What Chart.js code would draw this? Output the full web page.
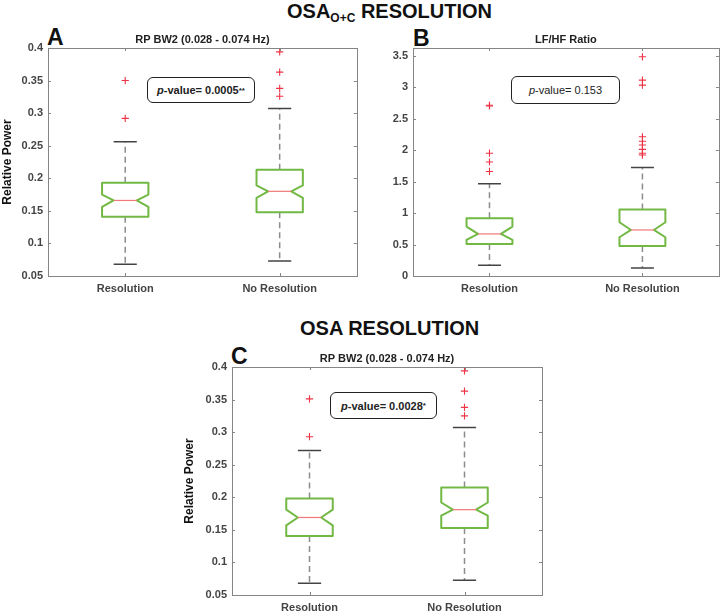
<!DOCTYPE html>
<html>
<head>
<meta charset="utf-8">
<script src="https://cdn.jsdelivr.net/npm/chart.js@4.4.1/dist/chart.umd.min.js"></script>
<style>
  body { margin: 0; background: #fff; font-family: "Liberation Sans", Arial, sans-serif; }
  #page { position: relative; width: 724px; height: 614px; overflow: hidden; }
  canvas { position: absolute; }
  .head { position: absolute; font-weight: bold; font-size: 20px; color: #111; white-space: nowrap; line-height: 1; }
  .head sub { font-size: 12px; vertical-align: -4px; }
  .letter { position: absolute; font-weight: bold; font-size: 23px; color: #111; line-height: 1; }
  .pval { position: absolute; box-sizing: border-box; border: 1.5px solid #222; border-radius: 6px; background: #fff;
          font-size: 11px; color: #222; display: flex; align-items: center; justify-content: center; white-space: nowrap; }
  .pval.b { font-weight: bold; }
  .pval sup { font-size: 8px; vertical-align: 3px; }
</style>
</head>
<body>
<div id="page">
  <div class="head" style="left:287px; top:1px;">OSA<sub>O+C</sub> RESOLUTION</div>
  <div class="head" style="left:300px; top:318px;">OSA RESOLUTION</div>
  <div class="letter" style="left:47px; top:26px;">A</div>
  <div class="letter" style="left:413px; top:27px;">B</div>
  <div class="letter" style="left:231px; top:345px;">C</div>

  <canvas id="chartA" width="362" height="272" style="left:0px; top:28px;"></canvas>
  <canvas id="chartB" width="362" height="272" style="left:362px; top:28px;"></canvas>
  <canvas id="chartC" width="380" height="269" style="left:170px; top:345px;"></canvas>

  <div class="pval b" style="left:147px; top:77px; width:108px; height:26px;"><i>p</i>-value= 0.0005<sup>**</sup></div>
  <div class="pval" style="left:511px; top:76px; width:109px; height:28px;"><i>p</i>-value= 0.153</div>
  <div class="pval b" style="left:330px; top:392px; width:107px; height:27px;"><i>p</i>-value= 0.0028<sup>*</sup></div>
</div>

<script>
const categories = ['Resolution', 'No Resolution']

// A: RP BW2, OSA O+C resolution
const aWhiskerLow  = [0.068, 0.073]
const aQ1          = [0.141, 0.148]
const aNotchLow    = [0.156, 0.170]
const aMedian      = [0.166, 0.180]
const aNotchHigh   = [0.175, 0.189]
const aQ3          = [0.193, 0.213]
const aWhiskerHigh = [0.256, 0.307]
const aOutliers    = [[0.350, 0.292], [0.394, 0.363, 0.338, 0.326]]
const aTicks       = [0.05, 0.1, 0.15, 0.2, 0.25, 0.3, 0.35, 0.4]

// B: LF/HF ratio
const bWhiskerLow  = [0.170, 0.127]
const bQ1          = [0.509, 0.477]
const bNotchLow    = [0.572, 0.615]
const bMedian      = [0.668, 0.731]
const bNotchHigh   = [0.784, 0.853]
const bQ3          = [0.917, 1.054]
const bWhiskerHigh = [1.463, 1.722]
const bOutliers    = [[2.71, 2.70, 1.95, 1.81, 1.66], [3.48, 3.11, 3.03, 2.21, 2.14, 2.08, 2.01, 1.95, 1.92]]
const bTicks       = [0, 0.5, 1, 1.5, 2, 2.5, 3, 3.5]

// C: RP BW2, OSA resolution
const cWhiskerLow  = [0.068, 0.0725]
const cQ1          = [0.1405, 0.153]
const cNotchLow    = [0.157, 0.172]
const cMedian      = [0.169, 0.181]
const cNotchHigh   = [0.181, 0.192]
const cQ3          = [0.198, 0.215]
const cWhiskerHigh = [0.272, 0.307]
const cOutliers    = [[0.351, 0.293], [0.394, 0.363, 0.338, 0.325]]
const cTicks       = [0.05, 0.1, 0.15, 0.2, 0.25, 0.3, 0.35, 0.4]

const FONT = '"Liberation Sans", Arial, sans-serif'
const BOX_HALF = 0.15   // in x units
const CAP_HALF = 0.075

// draws the notched boxes, whiskers, frame and inner ticks
function boxPlugin(st) {
  return {
    id: 'notchedBox',
    beforeDatasetsDraw(chart) {
      const { ctx, chartArea: a, scales: { x, y } } = chart
      ctx.save()
      for (let i = 0; i < st.median.length; i++) {
        const cx = x.getPixelForValue(i + 1)
        const hw = x.getPixelForValue(i + 1 + BOX_HALF) - cx
        const cw = x.getPixelForValue(i + 1 + CAP_HALF) - cx
        const py = v => y.getPixelForValue(v)

        // dashed whiskers
        ctx.strokeStyle = '#8c8c8c'
        ctx.lineWidth = 1.5
        ctx.setLineDash([6, 4])
        ctx.beginPath()
        ctx.moveTo(cx, py(st.q3[i])); ctx.lineTo(cx, py(st.whiskerHigh[i]))
        ctx.moveTo(cx, py(st.q1[i])); ctx.lineTo(cx, py(st.whiskerLow[i]))
        ctx.stroke()
        ctx.setLineDash([])

        // caps
        ctx.strokeStyle = '#444'
        ctx.beginPath()
        ctx.moveTo(cx - cw, py(st.whiskerHigh[i])); ctx.lineTo(cx + cw, py(st.whiskerHigh[i]))
        ctx.moveTo(cx - cw, py(st.whiskerLow[i])); ctx.lineTo(cx + cw, py(st.whiskerLow[i]))
        ctx.stroke()

        // notched box
        const l = cx - hw, r = cx + hw, ins = hw * 0.5
        ctx.strokeStyle = '#72b944'
        ctx.lineWidth = 2
        ctx.lineJoin = 'round'
        ctx.beginPath()
        ctx.moveTo(l, py(st.q1[i]))
        ctx.lineTo(l, py(st.notchLow[i]))
        ctx.lineTo(l + ins, py(st.median[i]))
        ctx.lineTo(l, py(st.notchHigh[i]))
        ctx.lineTo(l, py(st.q3[i]))
        ctx.lineTo(r, py(st.q3[i]))
        ctx.lineTo(r, py(st.notchHigh[i]))
        ctx.lineTo(r - ins, py(st.median[i]))
        ctx.lineTo(r, py(st.notchLow[i]))
        ctx.lineTo(r, py(st.q1[i]))
        ctx.closePath()
        ctx.stroke()

        // median
        ctx.strokeStyle = '#f07878'
        ctx.lineWidth = 1.2
        ctx.beginPath()
        ctx.moveTo(l + ins, py(st.median[i])); ctx.lineTo(r - ins, py(st.median[i]))
        ctx.stroke()
      }
      ctx.restore()
    },
    afterDraw(chart) {
      const { ctx, chartArea: a, scales: { x, y } } = chart
      ctx.save()
      ctx.strokeStyle = '#858585'
      ctx.lineWidth = 1
      ctx.strokeRect(Math.round(a.left) + 0.5, Math.round(a.top) + 0.5, Math.round(a.right - a.left), Math.round(a.bottom - a.top))
      ctx.beginPath()
      y.ticks.forEach(t => {
        const p = Math.round(y.getPixelForValue(t.value)) + 0.5
        ctx.moveTo(a.left, p); ctx.lineTo(a.left + 3, p)
        ctx.moveTo(a.right, p); ctx.lineTo(a.right - 3, p)
      })
      x.ticks.forEach(t => {
        const p = Math.round(x.getPixelForValue(t.value)) + 0.5
        ctx.moveTo(p, a.bottom); ctx.lineTo(p, a.bottom - 3)
        ctx.moveTo(p, a.top); ctx.lineTo(p, a.top + 3)
      })
      ctx.stroke()
      // subtitle
      ctx.fillStyle = '#222'
      ctx.font = 'bold 11px ' + FONT
      ctx.textAlign = 'center'
      ctx.textBaseline = 'alphabetic'
      ctx.fillText(st.title, (a.left + a.right) / 2, a.top - 5)
      ctx.restore()
    }
  }
}

function makeChart(id, st, cfg) {
  const outlierData = []
  st.outliers.forEach((list, i) => list.forEach(v => outlierData.push({ x: i + 1, y: v })))
  return new Chart(document.getElementById(id), {
    type: 'scatter',
    data: {
      datasets: [{
        data: outlierData,
        pointStyle: 'cross',
        pointRadius: 3.6,
        borderColor: '#ee3344',
        borderWidth: 1.1,
        backgroundColor: '#ee3344'
      }]
    },
    options: {
      responsive: false,
      animation: false,
      events: [],
      layout: { padding: { left: 0, top: cfg.padTop, right: cfg.padRight, bottom: 0 } },
      plugins: { legend: { display: false }, tooltip: { enabled: false } },
      scales: {
        x: {
          type: 'linear', min: 0.5, max: 2.5,
          grid: { display: false, drawTicks: false },
          border: { display: false },
          afterBuildTicks: sc => { sc.ticks = categories.map((c, i) => ({ value: i + 1 })) },
          afterFit: sc => { sc.height = cfg.xHeight },
          ticks: {
            autoSkip: false, maxRotation: 0, padding: 6, color: '#444',
            font: { family: FONT, size: 11, weight: 'bold' },
            callback: v => categories[v - 1]
          }
        },
        y: {
          type: 'linear', min: cfg.yMin, max: cfg.yMax,
          grid: { display: false, drawTicks: false },
          border: { display: false },
          afterBuildTicks: sc => { sc.ticks = cfg.ticks.map(v => ({ value: v })) },
          afterFit: sc => { sc.width = cfg.yWidth },
          ticks: {
            padding: 5, color: '#444',
            font: { family: FONT, size: 11, weight: 'bold' },
            callback: v => String(v)
          },
          title: {
            display: !!cfg.yTitle, text: cfg.yTitle || '', color: '#111',
            padding: { top: cfg.yTitlePad || 0, bottom: 0 },
            font: { family: FONT, size: 12, weight: 'bold' }
          }
        }
      }
    },
    plugins: [boxPlugin(st)]
  })
}

makeChart('chartA', {
  title: 'RP BW2 (0.028 - 0.074 Hz)',
  whiskerLow: aWhiskerLow, q1: aQ1, notchLow: aNotchLow, median: aMedian,
  notchHigh: aNotchHigh, q3: aQ3, whiskerHigh: aWhiskerHigh, outliers: aOutliers
}, { padTop: 20, padRight: 4, xHeight: 24, yWidth: 48, yMin: 0.05, yMax: 0.4, ticks: aTicks, yTitle: 'Relative Power', yTitlePad: 0 })

makeChart('chartB', {
  title: 'LF/HF Ratio',
  whiskerLow: bWhiskerLow, q1: bQ1, notchLow: bNotchLow, median: bMedian,
  notchHigh: bNotchHigh, q3: bQ3, whiskerHigh: bWhiskerHigh, outliers: bOutliers
}, { padTop: 20, padRight: 3, xHeight: 24, yWidth: 51, yMin: 0, yMax: 3.62, ticks: bTicks })

makeChart('chartC', {
  title: 'RP BW2 (0.028 - 0.074 Hz)',
  whiskerLow: cWhiskerLow, q1: cQ1, notchLow: cNotchLow, median: cMedian,
  notchHigh: cNotchHigh, q3: cQ3, whiskerHigh: cWhiskerHigh, outliers: cOutliers
}, { padTop: 22, padRight: 8, xHeight: 19, yWidth: 62, yMin: 0.05, yMax: 0.4, ticks: cTicks, yTitle: 'Relative Power', yTitlePad: 12 })
</script>
</body>
</html>
